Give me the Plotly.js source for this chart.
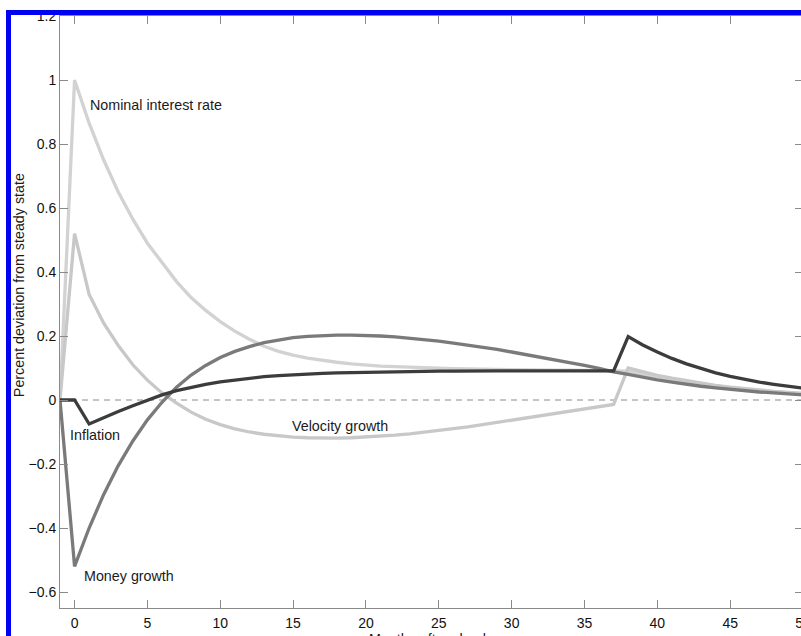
<!DOCTYPE html>
<html>
<head>
<meta charset="utf-8">
<script src="https://cdn.plot.ly/plotly-3.0.1.min.js"></script>
<style>
  html, body { margin: 0; padding: 0; background: #ffffff; overflow: hidden; width: 801px; height: 636px; }
  #chart { position: absolute; left: 0; top: 0; }
  #frameTop { position: absolute; left: 0; top: 0; width: 801px; height: 10px; background: #ffffff; }
  #frameLeft { position: absolute; left: 0; top: 0; width: 6px; height: 636px; background: #ffffff; }
  #frame { position: absolute; left: 6px; top: 10px; width: 900px; height: 700px; border-left: 5px solid #0000f2; border-top: 5px solid #0000f2; pointer-events: none; }
</style>
</head>
<body>
<div id="chart"></div>
<div id="frameTop"></div>
<div id="frameLeft"></div>
<div id="frame"></div>
<script>
// Impulse responses to a monetary shock, months -1 .. 50 (one value per month)
const months = [];
for (let m = -1; m <= 50; m++) months.push(m);

const nominalRate = [
  0, 1.000, 0.865, 0.750, 0.650, 0.565, 0.490, 0.430, 0.370, 0.320,
  0.280, 0.245, 0.215, 0.190, 0.168, 0.152, 0.140, 0.131, 0.124, 0.118,
  0.113, 0.109, 0.106, 0.104, 0.102, 0.100, 0.099, 0.098, 0.097, 0.096,
  0.095, 0.095, 0.094, 0.094, 0.093, 0.093, 0.092, 0.092, 0.091, 0.090,
  0.081, 0.072, 0.064, 0.057, 0.050, 0.044, 0.039, 0.034, 0.030, 0.026,
  0.023, 0.020
];

const inflation = [
  0, 0.000, -0.075, -0.055, -0.036, -0.018, 0.000, 0.016, 0.029, 0.040,
  0.049, 0.057, 0.063, 0.068, 0.073, 0.076, 0.079, 0.081, 0.083, 0.085,
  0.086, 0.087, 0.088, 0.089, 0.089, 0.090, 0.090, 0.090, 0.091, 0.091,
  0.091, 0.091, 0.091, 0.091, 0.091, 0.091, 0.091, 0.091, 0.091, 0.198,
  0.172, 0.150, 0.130, 0.113, 0.098, 0.085, 0.074, 0.064, 0.056, 0.049,
  0.043, 0.037
];

const moneyGrowth = [
  0, -0.520, -0.400, -0.295, -0.205, -0.128, -0.062, -0.007, 0.040, 0.078,
  0.108, 0.133, 0.152, 0.167, 0.179, 0.188, 0.195, 0.199, 0.202, 0.203,
  0.203, 0.202, 0.200, 0.197, 0.193, 0.189, 0.184, 0.178, 0.172, 0.165,
  0.158, 0.150, 0.142, 0.134, 0.126, 0.117, 0.108, 0.099, 0.088, 0.080,
  0.071, 0.063, 0.056, 0.049, 0.043, 0.038, 0.033, 0.029, 0.025, 0.022,
  0.019, 0.016
];

const velocityGrowth = [
  0, 0.520, 0.330, 0.240, 0.170, 0.110, 0.062, 0.022, -0.010, -0.038,
  -0.060, -0.077, -0.090, -0.100, -0.107, -0.112, -0.116, -0.118, -0.119, -0.119,
  -0.118, -0.116, -0.113, -0.110, -0.106, -0.101, -0.096, -0.090, -0.084, -0.077,
  -0.070, -0.063, -0.056, -0.049, -0.042, -0.035, -0.028, -0.021, -0.014, 0.100,
  0.088, 0.077, 0.068, 0.060, 0.052, 0.046, 0.040, 0.035, 0.031, 0.027,
  0.024, 0.021
];

const xTicks = [0, 5, 10, 15, 20, 25, 30, 35, 40, 45, 50];
const yTicks = [-0.6, -0.4, -0.2, 0, 0.2, 0.4, 0.6, 0.8, 1, 1.2];
const yTickText = ['\u22120.6', '\u22120.4', '\u22120.2', '0', '0.2', '0.4', '0.6', '0.8', '1', '1.2'];

const seriesNames = ['Nominal interest rate', 'Velocity growth', 'Money growth', 'Inflation'];

function line(name, y, color) {
  return {
    x: months, y: y, name: name, type: 'scatter', mode: 'lines',
    line: { color: color, width: 3.3 }, hoverinfo: 'skip'
  };
}

const traces = [
  line(seriesNames[0], nominalRate, '#d2d2d2'),
  line(seriesNames[1], velocityGrowth, '#c8c8c8'),
  line(seriesNames[2], moneyGrowth, '#7a7a7a'),
  line(seriesNames[3], inflation, '#3c3c3c')
];

const fontFamily = 'Liberation Sans, Arial, Helvetica, sans-serif';
const labelFont = { family: fontFamily, size: 14.3, color: '#1a1a1a' };

const axisCommon = {
  showline: true, linecolor: '#8a8a8a', linewidth: 1, mirror: 'ticks',
  ticks: 'inside', ticklen: 8, tickcolor: '#8a8a8a', tickwidth: 1,
  showgrid: false, zeroline: false,
  tickfont: { family: fontFamily, size: 14, color: '#111111' }
};

const layout = {
  width: 820, height: 636,
  margin: { l: 60, r: 17, t: 16, b: 28 },
  paper_bgcolor: '#ffffff', plot_bgcolor: '#ffffff',
  showlegend: false,
  xaxis: Object.assign({}, axisCommon, {
    range: [-1, 50], tickvals: xTicks, ticktext: xTicks.map(String), ticklabelstandoff: 2
  }),
  yaxis: Object.assign({}, axisCommon, {
    range: [-0.65, 1.2], tickvals: yTicks, ticktext: yTickText
  }),
  shapes: [{
    type: 'line', xref: 'paper', yref: 'y', x0: 0, x1: 1, y0: 0, y1: 0,
    line: { color: '#8a8a8a', width: 1, dash: '6px,5px' }, layer: 'below'
  }],
  annotations: [
    { text: seriesNames[0], x: 0.92, y: 0.922, xref: 'x', yref: 'y', xanchor: 'left', yanchor: 'middle', showarrow: false, font: labelFont },
    { text: seriesNames[3], x: -0.45, y: -0.109, xref: 'x', yref: 'y', xanchor: 'left', yanchor: 'middle', showarrow: false, font: labelFont },
    { text: seriesNames[2], x: 0.51, y: -0.55, xref: 'x', yref: 'y', xanchor: 'left', yanchor: 'middle', showarrow: false, font: labelFont },
    { text: seriesNames[1], x: 14.8, y: -0.081, xref: 'x', yref: 'y', xanchor: 'left', yanchor: 'middle', showarrow: false, font: labelFont },
    { text: 'Percent deviation from steady state', x: -0.056, y: 0.546, xref: 'paper', yref: 'paper',
      xanchor: 'center', yanchor: 'middle', textangle: -90, showarrow: false, font: labelFont },
    { text: 'Months after shock', x: 0.498, y: -0.036, xref: 'paper', yref: 'paper',
      xanchor: 'center', yanchor: 'top', showarrow: false, font: labelFont }
  ]
};

Plotly.newPlot('chart', traces, layout, { staticPlot: true, displayModeBar: false });
</script>
</body>
</html>
